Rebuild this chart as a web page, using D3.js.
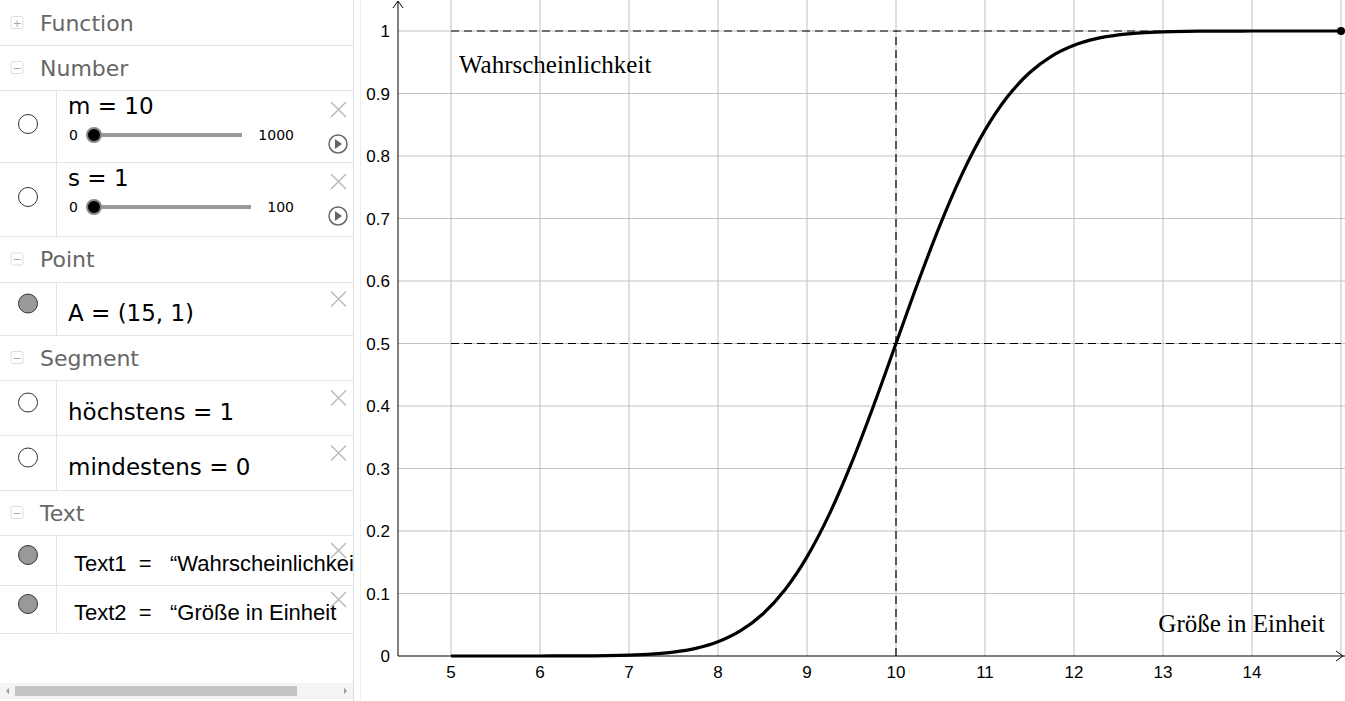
<!DOCTYPE html>
<html><head><meta charset="utf-8">
<script src="https://cdn.jsdelivr.net/npm/d3@7"></script>
<style>body{margin:0;background:#fff;overflow:hidden} text{white-space:pre}</style>
</head><body>
<svg id="c" width="1345" height="701"></svg>
<script>
const xTicks=[5,6,7,8,9,10,11,12,13,14];
const yTicks=[0,0.1,0.2,0.3,0.4,0.5,0.6,0.7,0.8,0.9,1];
const curveX=[5,5.25,5.5,5.75,6,6.25,6.5,6.75,7,7.25,7.5,7.75,8,8.25,8.5,8.75,9,9.25,9.5,9.75,10,10.25,10.5,10.75,11,11.25,11.5,11.75,12,12.25,12.5,12.75,13,13.25,13.5,13.75,14,14.25,14.5,14.75,15];
const curveY=[0.0000003,0.000001,0.0000034,0.0000107,0.0000317,0.0000884,0.000233,0.000577,0.00135,0.00298,0.00621,0.01222,0.02275,0.04006,0.06681,0.10565,0.15866,0.22663,0.30854,0.40129,0.5,0.59871,0.69146,0.77337,0.84134,0.89435,0.93319,0.95994,0.97725,0.98778,0.99379,0.99702,0.99865,0.99942,0.99977,0.99991,0.99997,0.99999,1,1,1];
const pointA=[15,1];
const labels={y:"Wahrscheinlichkeit",x:"Größe in Einheit"};

const svg=d3.select("#c");
const x=d3.scaleLinear().domain([5,10]).range([451,896]);
const y=d3.scaleLinear().domain([0,1]).range([656,31]);
const X0=398, Xr=1345, Yt=0;
const g=svg.append("g");
g.selectAll(".vg").data(d3.range(5,16)).join("line").attr("x1",d=>x(d)).attr("x2",d=>x(d)).attr("y1",Yt).attr("y2",656).attr("stroke","#c0c0c0");
g.selectAll(".hg").data(d3.range(1,11).map(i=>i/10)).join("line").attr("x1",X0).attr("x2",Xr).attr("y1",d=>y(d)).attr("y2",d=>y(d)).attr("stroke","#c0c0c0");
g.append("line").attr("x1",X0).attr("x2",Xr).attr("y1",656).attr("y2",656).attr("stroke","#000");
g.append("line").attr("x1",X0).attr("x2",X0).attr("y1",1).attr("y2",656).attr("stroke","#000");
g.append("path").attr("d",`M${X0-5},8 L${X0},1 L${X0+5},8`).attr("fill","none").attr("stroke","#000");
g.append("path").attr("d",`M1336,651 L1343,656 L1336,661`).attr("fill","none").attr("stroke","#000");
g.selectAll(".xt").data(xTicks).join("text").attr("x",d=>x(d)).attr("y",678).attr("text-anchor","middle").attr("font-family","Liberation Sans,Arial").attr("font-size",17).text(d=>d);
g.selectAll(".yt").data(yTicks).join("text").attr("x",390).attr("y",d=>y(d)+6).attr("text-anchor","end").attr("font-family","Liberation Sans,Arial").attr("font-size",17).text(d=>d);
const dash={stroke:"#000","stroke-dasharray":"8,5","stroke-width":1.2};
function dl(a,b,c,d){const l=g.append("line").attr("x1",a).attr("x2",b).attr("y1",c).attr("y2",d);for(const k in dash)l.attr(k,dash[k]);}
dl(x(5),x(15),y(1),y(1));dl(x(5),x(15),y(0.5),y(0.5));dl(x(10),x(10),y(0),y(1));
g.append("path").datum(curveX.map((v,i)=>[v,curveY[i]])).attr("d",d3.line().x(d=>x(d[0])).y(d=>y(d[1])).curve(d3.curveMonotoneX)).attr("fill","none").attr("stroke","#000").attr("stroke-width",3.2);
g.append("circle").attr("cx",x(pointA[0])).attr("cy",y(pointA[1])).attr("r",4).attr("fill","#000");
g.append("text").attr("x",459).attr("y",73).attr("font-family","Liberation Serif,serif").attr("font-size",25).text(labels.y);
g.append("text").attr("x",1325).attr("y",632).attr("text-anchor","end").attr("font-family","Liberation Serif,serif").attr("font-size",25).text(labels.x);

const p=svg.append("g");
p.append("rect").attr("x",0).attr("y",0).attr("width",354).attr("height",701).attr("fill","#fff");
p.append("line").attr("x1",353.5).attr("x2",353.5).attr("y1",0).attr("y2",701).attr("stroke","#ddd");
p.append("line").attr("x1",360.5).attr("x2",360.5).attr("y1",0).attr("y2",701).attr("stroke","#eee");
const F="DejaVu Sans,sans-serif";
const headers=[["Function",0,45,"+"],["Number",45,90,"−"],["Point",236,282,"−"],["Segment",335,380,"−"],["Text",490,535,"−"]];
headers.forEach(([t,a,b,s])=>{
 p.append("rect").attr("x",11).attr("y",(a+b)/2-6).attr("width",12).attr("height",12).attr("rx",2).attr("fill","none").attr("stroke","#ddd");
 p.append("text").attr("x",17).attr("y",(a+b)/2+4).attr("text-anchor","middle").attr("font-size",11).attr("fill","#aaa").attr("font-family",F).text(s);
 p.append("text").attr("x",40).attr("y",(a+b)/2+8).attr("font-size",22).attr("fill","#666").attr("font-family",F).text(t);
 p.append("line").attr("x1",0).attr("x2",353).attr("y1",b+0.5).attr("y2",b+0.5).attr("stroke","#e4e4e4");
});
const rows=[["m = 10",90,162,"o",true,"1000",242],["s = 1",162,236,"o",true,"100",251],["A = (15, 1)",282,335,"f"],["höchstens = 1",380,435,"o"],["mindestens = 0",435,490,"o"],["Text1  =   “Wahrscheinlichkeit",535,585,"f"],["Text2  =   “Größe in Einheit",585,633,"f"]];
p.append("clipPath").attr("id","cl").append("rect").attr("x",0).attr("y",0).attr("width",353).attr("height",701);
rows.forEach(([t,a,b,k,sl,mx,ex])=>{
 const cy=sl?a+34:(a+b)/2;
 p.append("circle").attr("cx",28).attr("cy",sl?(a+b)/2-2:cy-5).attr("r",9.5).attr("fill",k=="f"?"#999":"#fff").attr("stroke","#333").attr("stroke-width",1);
 p.append("line").attr("x1",56.5).attr("x2",56.5).attr("y1",a).attr("y2",b).attr("stroke","#e4e4e4");
 p.append("line").attr("x1",0).attr("x2",353).attr("y1",b+0.5).attr("y2",b+0.5).attr("stroke","#e4e4e4");
 const isT=t.startsWith("Text");
 const ty=sl?a+24:(isT?cy+11:cy+12);
 p.append("text").attr("clip-path","url(#cl)").attr("x",isT?74:68).attr("y",ty).attr("font-size",isT?22:23).attr("fill","#000").attr("font-family",isT?"Liberation Sans,sans-serif":F).text(t);
 p.append("path").attr("d",`M331,${sl?a+12:cy-17} l15,15 M346,${sl?a+12:cy-17} l-15,15`).attr("stroke","#bbb").attr("stroke-width",1.5);
 if(sl){
  p.append("text").attr("x",69).attr("y",a+50).attr("font-size",14).attr("font-family",F).text("0");
  p.append("line").attr("x1",94).attr("x2",ex).attr("y1",a+45).attr("y2",a+45).attr("stroke","#999").attr("stroke-width",4);
  p.append("circle").attr("cx",94).attr("cy",a+45).attr("r",7).attr("fill","#000").attr("stroke","#888").attr("stroke-width",2);
  p.append("text").attr("x",294).attr("y",a+50).attr("text-anchor","end").attr("font-size",14).attr("font-family",F).text(mx);
  p.append("circle").attr("cx",338).attr("cy",a+54).attr("r",9).attr("fill","none").attr("stroke","#666").attr("stroke-width",1.5);
  p.append("path").attr("d",`M335,${a+49} l7,5 l-7,5z`).attr("fill","#666");
 }
});
p.append("rect").attr("x",0).attr("y",683).attr("width",353).attr("height",16).attr("fill","#f4f4f4");
p.append("rect").attr("x",15).attr("y",686).attr("width",282).attr("height",10).attr("fill","#c4c4c4");
p.append("path").attr("d","M9,688 l-3,3 l3,3z M344,688 l3,3 l-3,3z").attr("fill","#999");
</script></body></html>
